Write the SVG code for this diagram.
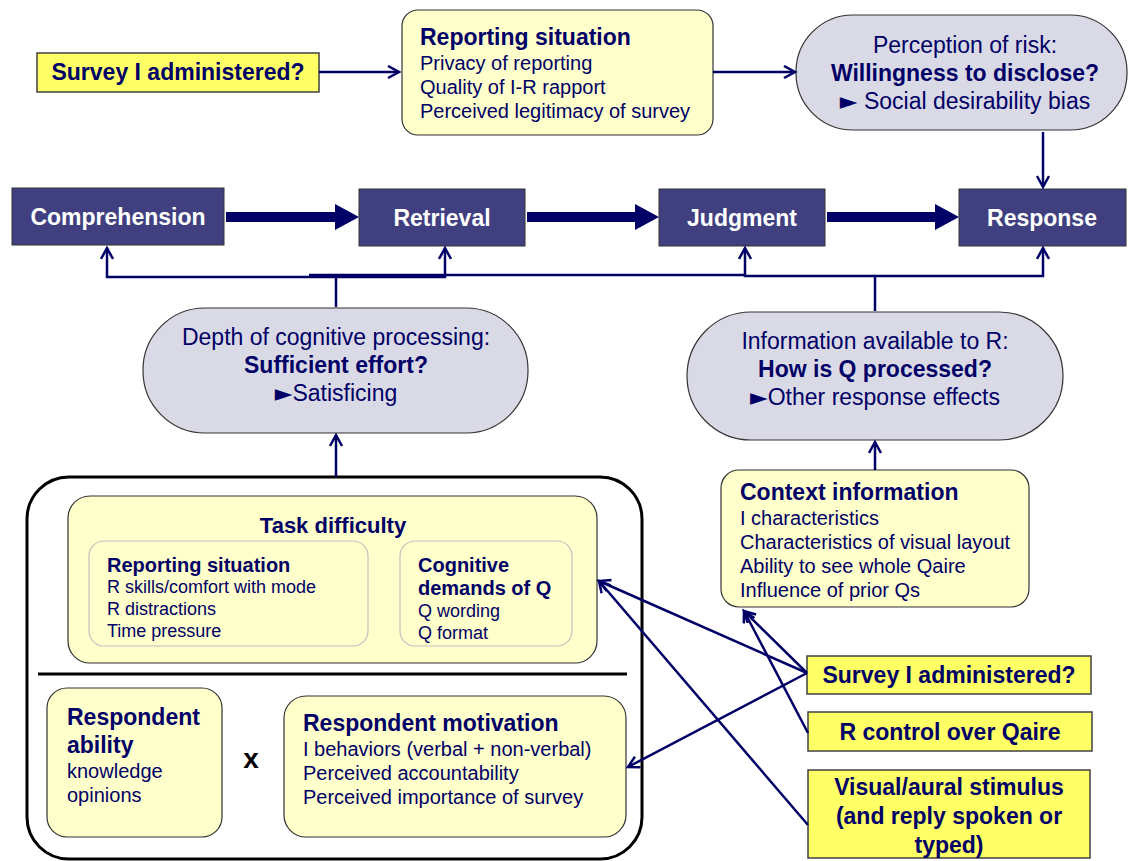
<svg xmlns="http://www.w3.org/2000/svg" width="1129" height="861" viewBox="0 0 1129 861">
<style>
text{font-family:"Liberation Sans",Arial,sans-serif;fill:#000066}
.b{font-weight:bold}
.c{text-anchor:middle}
.w{fill:#ffffff;font-weight:bold;font-size:23px;text-anchor:middle}
.tri{font-family:"DejaVu Sans",sans-serif;font-size:23px}
.yel{fill:#FFFF66;stroke:#404040;stroke-width:1.5}
.lt{fill:#FFFFCC;stroke:#333333;stroke-width:1.2}
.inner{fill:#FFFFCC;stroke:#C0C0C0;stroke-width:1.2}
.pill{fill:#DADAE6;stroke:#333333;stroke-width:1.2}
.proc{fill:#404080;stroke:#333333;stroke-width:1}
.con{fill:none;stroke:#000066;stroke-width:2.5}
.thick{fill:#000066}
</style>
<defs>
<marker id="ah" markerUnits="userSpaceOnUse" markerWidth="16" markerHeight="16" refX="12" refY="7" orient="auto">
<path d="M1,1 L12,7 L1,13" fill="none" stroke="#000066" stroke-width="2.5"/>
</marker>
</defs>

<g id="survey-top">
<rect class="yel" x="37" y="53" width="282" height="39"/>
<text class="b c" x="178" y="80" font-size="23">Survey I administered?</text>
</g>

<g id="reporting-situation">
<rect class="lt" x="402" y="10" width="311" height="125" rx="16"/>
<text class="b" x="420" y="45" font-size="23">Reporting situation</text>
<text x="420" y="70" font-size="20">Privacy of reporting</text>
<text x="420" y="94" font-size="20">Quality of I-R rapport</text>
<text x="420" y="118" font-size="20">Perceived legitimacy of survey</text>
</g>

<g id="perception-risk">
<rect class="pill" x="796" y="15" width="331" height="115" rx="57"/>
<text class="c" x="965" y="53" font-size="23">Perception of risk:</text>
<text class="b c" x="965" y="81" font-size="23">Willingness to disclose?</text>
<text class="c" x="965" y="109" font-size="23"><tspan class="tri">►</tspan> Social desirability bias</text>
</g>

<g id="comprehension">
<rect class="proc" x="12" y="188" width="212" height="57"/>
<text class="w" x="118" y="225">Comprehension</text>
</g>
<g id="retrieval">
<rect class="proc" x="359" y="189" width="166" height="57"/>
<text class="w" x="442" y="226">Retrieval</text>
</g>
<g id="judgment">
<rect class="proc" x="659" y="189" width="166" height="57"/>
<text class="w" x="742" y="226">Judgment</text>
</g>
<g id="response">
<rect class="proc" x="959" y="189" width="167" height="57"/>
<text class="w" x="1042" y="226">Response</text>
</g>

<g id="depth-processing">
<rect class="pill" x="143" y="308" width="385" height="125" rx="62"/>
<text class="c" x="336" y="345" font-size="23">Depth of cognitive processing:</text>
<text class="b c" x="336" y="373" font-size="23">Sufficient effort?</text>
<text class="c" x="336" y="401" font-size="23"><tspan class="tri">►</tspan>Satisficing</text>
</g>

<g id="information-available">
<rect class="pill" x="687" y="312" width="376" height="128" rx="64"/>
<text class="c" x="875" y="349" font-size="23">Information available to R:</text>
<text class="b c" x="875" y="377" font-size="23">How is Q processed?</text>
<text class="c" x="875" y="405" font-size="23"><tspan class="tri">►</tspan>Other response effects</text>
</g>

<g id="context-information">
<rect class="lt" x="721" y="470" width="308" height="137" rx="18"/>
<text class="b" x="740" y="500" font-size="23">Context information</text>
<text x="740" y="525" font-size="20">I characteristics</text>
<text x="740" y="549" font-size="20">Characteristics of visual layout</text>
<text x="740" y="573" font-size="20">Ability to see whole Qaire</text>
<text x="740" y="597" font-size="20">Influence of prior Qs</text>
</g>

<g id="respondent-container">
<rect x="27" y="477" width="615" height="382" rx="42" fill="#ffffff" stroke="#000000" stroke-width="3"/>
<line x1="38" y1="674" x2="627" y2="674" stroke="#000000" stroke-width="3"/>
</g>

<g id="task-difficulty">
<rect class="lt" x="68" y="496" width="529" height="167" rx="22"/>
<text class="b c" x="333" y="533" font-size="22">Task difficulty</text>
</g>

<g id="reporting-situation-inner">
<rect class="inner" x="89" y="541" width="279" height="105" rx="15"/>
<text class="b" x="107" y="572" font-size="20">Reporting situation</text>
<text x="107" y="593" font-size="18">R skills/comfort with mode</text>
<text x="107" y="615" font-size="18">R distractions</text>
<text x="107" y="637" font-size="18">Time pressure</text>
</g>

<g id="cognitive-demands">
<rect class="inner" x="400" y="541" width="172" height="105" rx="15"/>
<text class="b" x="418" y="572" font-size="20">Cognitive</text>
<text class="b" x="418" y="595" font-size="20">demands of Q</text>
<text x="418" y="617" font-size="18">Q wording</text>
<text x="418" y="639" font-size="18">Q format</text>
</g>

<g id="respondent-ability">
<rect class="lt" x="47" y="688" width="175" height="149" rx="20"/>
<text class="b" x="67" y="725" font-size="23">Respondent</text>
<text class="b" x="67" y="753" font-size="23">ability</text>
<text x="67" y="778" font-size="20">knowledge</text>
<text x="67" y="802" font-size="20">opinions</text>
</g>

<g id="times">
<text class="b c" x="251" y="768" font-size="28" style="fill:#000000">x</text>
</g>

<g id="respondent-motivation">
<rect class="lt" x="284" y="696" width="342" height="141" rx="22"/>
<text class="b" x="303" y="731" font-size="23">Respondent motivation</text>
<text x="303" y="756" font-size="20">I behaviors (verbal + non-verbal)</text>
<text x="303" y="780" font-size="20">Perceived accountability</text>
<text x="303" y="804" font-size="20">Perceived importance of survey</text>
</g>

<g id="survey-right">
<rect class="yel" x="807" y="656" width="284" height="38"/>
<text class="b c" x="949" y="683" font-size="23">Survey I administered?</text>
</g>

<g id="r-control">
<rect class="yel" x="808" y="712" width="284" height="39"/>
<text class="b c" x="950" y="740" font-size="23">R control over Qaire</text>
</g>

<g id="visual-stimulus">
<rect class="yel" x="808" y="770" width="282" height="88"/>
<text class="b c" x="949" y="795" font-size="23">Visual/aural stimulus</text>
<text class="b c" x="949" y="824" font-size="23">(and reply spoken or</text>
<text class="b c" x="949" y="853" font-size="23">typed)</text>
</g>

<g id="connectors">
<line class="con" x1="319" y1="72" x2="399" y2="72" marker-end="url(#ah)"/>
<line class="con" x1="713" y1="72" x2="795" y2="72" marker-end="url(#ah)"/>
<line class="con" x1="1043" y1="132" x2="1043" y2="187" marker-end="url(#ah)"/>
<path class="thick" d="M226,212 H335 V204 L359,217 L335,230 V222 H226 Z"/>
<path class="thick" d="M527,212 H635 V204 L659,217 L635,230 V222 H527 Z"/>
<path class="thick" d="M827,212 H935 V204 L959,217 L935,230 V222 H827 Z"/>
<path class="con" d="M336,307 V277 H107 V248" marker-end="url(#ah)"/>
<path class="con" d="M336,277 H445 V248" marker-end="url(#ah)"/>
<path class="con" d="M875,311 V276 H1043 V248" marker-end="url(#ah)"/>
<path class="con" d="M875,276 H745 V248" marker-end="url(#ah)"/>
<line class="con" x1="745" y1="275" x2="309" y2="275"/>
<line class="con" x1="875" y1="470" x2="875" y2="442" marker-end="url(#ah)"/>
<line class="con" x1="336" y1="477" x2="336" y2="435" marker-end="url(#ah)"/>
<line class="con" x1="807" y1="673" x2="599" y2="581" marker-end="url(#ah)"/>
<line class="con" x1="807" y1="673" x2="744" y2="611" marker-end="url(#ah)"/>
<line class="con" x1="807" y1="673" x2="628" y2="767" marker-end="url(#ah)"/>
<line class="con" x1="808" y1="733" x2="744" y2="611" marker-end="url(#ah)"/>
<line class="con" x1="808" y1="825" x2="599" y2="581" marker-end="url(#ah)"/>
</g>
</svg>
